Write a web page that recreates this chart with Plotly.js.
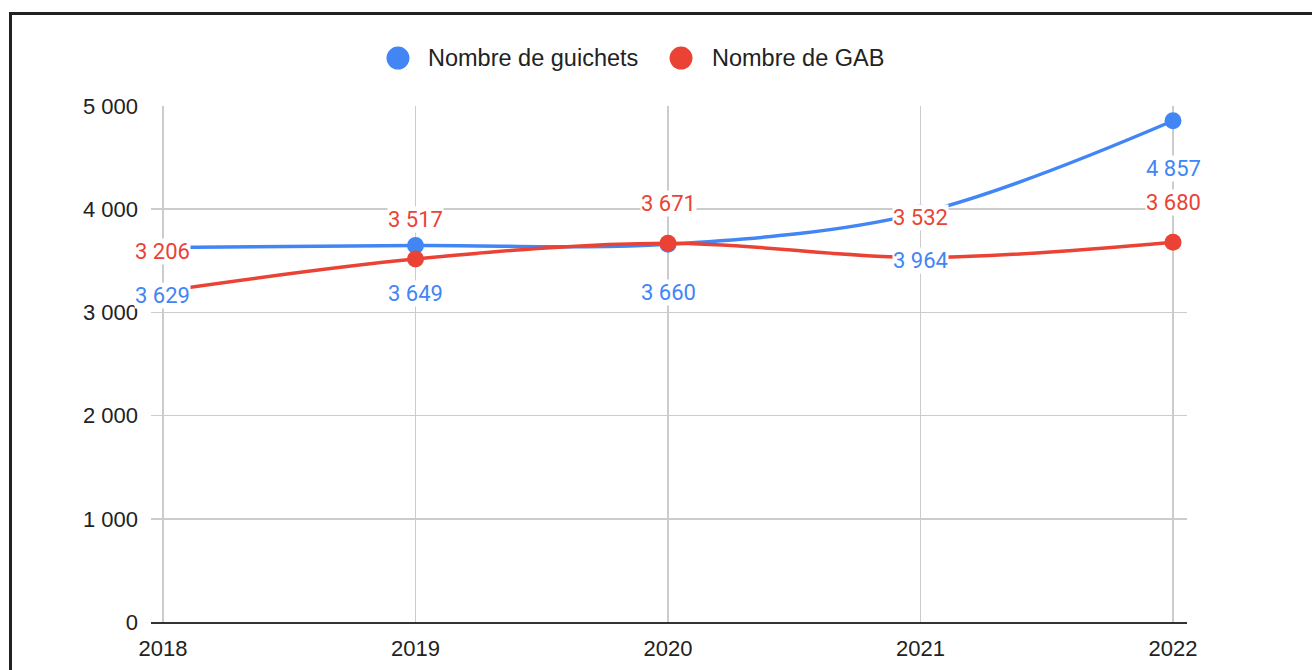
<!DOCTYPE html>
<html>
<head>
<meta charset="utf-8">
<script src="https://cdn.plot.ly/plotly-3.0.1.min.js"></script>
<style>
  html, body { margin: 0; padding: 0; width: 1312px; height: 670px; overflow: hidden; background: #fff; }
  #chart { position: absolute; left: 0; top: 0; width: 1312px; height: 670px; }
  #frame { position: absolute; left: 9px; top: 12px; width: 1340px; height: 700px; border: 3px solid #222; pointer-events: none; }
</style>
</head>
<body>
<div id="chart"></div>
<div id="frame"></div>
<script>
const years = [2018, 2019, 2020, 2021, 2022];
const guichets = [3629, 3649, 3660, 3964, 4857];
const gab = [3206, 3517, 3671, 3532, 3680];
const seriesNames = ['Nombre de guichets', 'Nombre de GAB'];
const yTicks = [0, 1000, 2000, 3000, 4000, 5000];

const BLUE = '#4285F4';
const RED = '#EA4335';
const COLORS = [BLUE, RED];

function fmt(v) { return String(v).replace(/\B(?=(\d{3})+(?!\d))/g, ' '); }

const traces = [
  { x: years, y: guichets, mode: 'lines+markers', name: seriesNames[0], showlegend: false,
    line: { color: BLUE, width: 3.5, shape: 'spline', smoothing: 1 }, marker: { color: BLUE, size: 17 }, hoverinfo: 'skip' },
  { x: years, y: gab, mode: 'lines+markers', name: seriesNames[1], showlegend: false,
    line: { color: RED, width: 3.5, shape: 'spline', smoothing: 1 }, marker: { color: RED, size: 17 }, hoverinfo: 'skip' }
];

const annotations = [];
years.forEach((yr, i) => {
  annotations.push({ x: yr, y: guichets[i], xref: 'x', yref: 'y', text: fmt(guichets[i]), showarrow: false,
    yshift: -48, bgcolor: '#ffffff', borderpad: 0,
    font: { family: 'Roboto, Arial, sans-serif', size: 22, color: BLUE } });
});
years.forEach((yr, i) => {
  annotations.push({ x: yr, y: gab[i], xref: 'x', yref: 'y', text: fmt(gab[i]), showarrow: false,
    yshift: 40, bgcolor: '#ffffff', borderpad: 0,
    font: { family: 'Roboto, Arial, sans-serif', size: 22, color: RED } });
});

// Custom legend (circle + label)
const legendCircleX = [0.2384, 0.5116];
const legendTextX = [0.2664, 0.5405];
const legendY = 1.093;
const shapes = [];
seriesNames.forEach((nm, i) => {
  shapes.push({ type: 'circle', xref: 'paper', yref: 'paper', xsizemode: 'pixel', ysizemode: 'pixel',
    xanchor: legendCircleX[i], yanchor: legendY, x0: -11.5, x1: 11.5, y0: -11.5, y1: 11.5,
    fillcolor: COLORS[i], line: { width: 0 } });
  annotations.push({ x: legendTextX[i], y: legendY, xref: 'paper', yref: 'paper', xanchor: 'left', yanchor: 'middle',
    text: nm, showarrow: false, borderpad: 0,
    font: { family: 'Arial, "Liberation Sans", sans-serif', size: 23.5, color: '#222222' } });
});

const layout = {
  width: 1312, height: 670,
  margin: { l: 151, r: 125, t: 106, b: 48, pad: 0 },
  paper_bgcolor: '#ffffff', plot_bgcolor: '#ffffff',
  separators: ', ',
  font: { family: 'Arial, "Liberation Sans", sans-serif', color: '#222222', size: 22 },
  xaxis: {
    range: [2017.9525, 2022.0554], tickvals: years, ticktext: years.map(String),
    showgrid: true, gridcolor: '#cccccc', gridwidth: 1.5,
    showline: true, linecolor: '#333333', linewidth: 2,
    zeroline: false, ticks: '', ticklabelstandoff: 6,
    tickfont: { size: 22, color: '#222222' }, fixedrange: true
  },
  yaxis: {
    range: [0, 5000], tickvals: yTicks, ticktext: yTicks.map(fmt),
    showgrid: true, gridcolor: '#cccccc', gridwidth: 1.5,
    zeroline: false, showline: false, ticks: '', ticklabelstandoff: 12,
    tickfont: { size: 22, color: '#222222' }, fixedrange: true
  },
  showlegend: false,
  shapes: shapes,
  annotations: annotations
};

Plotly.newPlot('chart', traces, layout, { displayModeBar: false, staticPlot: true });
</script>
</body>
</html>
